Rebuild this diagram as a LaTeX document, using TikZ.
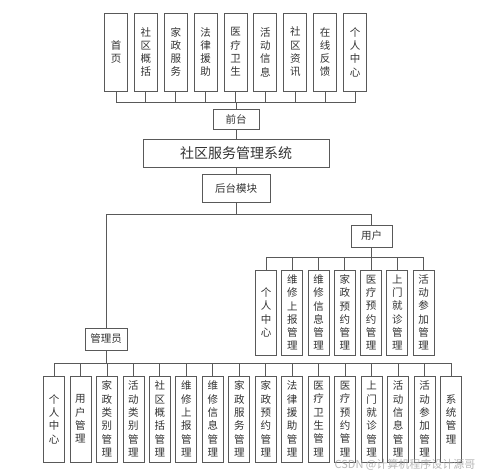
\documentclass[tikz,border=0pt]{standalone}
\usepackage{fontspec}
\setmainfont{Noto Sans CJK SC}
\begin{document}
\begin{tikzpicture}[x=1pt,y=-1pt,
  box/.style={draw=black!65, line width=0.8pt, fill=white, inner sep=0pt, align=center,
    font=\fontsize{10.5}{13.3}\selectfont, text=black!80},
  vbox/.style={box, minimum width=21pt},
  topbox/.style={box, minimum width=23pt, minimum height=78pt},
  ubox/.style={vbox, minimum height=85pt},
  abox/.style={vbox, minimum height=86pt},
  link/.style={draw=black!65, line width=0.8pt}]
\useasboundingbox (0,0) rectangle (499,472);
\fill[white] (0,0) rectangle (499,472);

% top row
\foreach \t [count=\i from 0] in {首\\页, 社\\区\\概\\括, 家\\政\\服\\务, 法\\律\\援\\助, 医\\疗\\卫\\生, 活\\动\\信\\息, 社\\区\\资\\讯, 在\\线\\反\\馈, 个\\人\\中\\心}
  \node[topbox] (t\i) at ({116+29.875*\i},52) {\t};

\node[box, minimum width=46pt, minimum height=20pt] (qt) at (236,119) {前台};
\node[box, minimum width=186pt, minimum height=28pt, font=\fontsize{14}{16}\selectfont] (sys) at (236,153) {社区服务管理系统};
\node[box, minimum width=68pt, minimum height=28pt] (ht) at (236,188) {后台模块};
\node[box, minimum width=41pt, minimum height=22pt] (yh) at (371.5,236) {用户};
\node[box, minimum width=42pt, minimum height=22pt] (gly) at (106,339) {管理员};

\coordinate (tb) at (236,102);
\foreach \i in {0,...,8} \draw[link] (t\i.south) |- (tb);
\draw[link] (tb) -- (qt.north);
\draw[link] (qt.south) -- (sys.north);
\draw[link] (sys.south) -- (ht.north);
\coordinate (hb) at (236,214);
\draw[link] (ht.south) -- (hb);
\draw[link] (hb) -| (yh.north);
\draw[link] (hb) -| (gly.north);

% user row
\foreach \t [count=\i from 0] in {个\\人\\中\\心, 维\\修\\上\\报\\管\\理, 维\\修\\信\\息\\管\\理, 家\\政\\预\\约\\管\\理, 医\\疗\\预\\约\\管\\理, 上\\门\\就\\诊\\管\\理, 活\\动\\参\\加\\管\\理}
  \node[ubox] (u\i) at ({266+26.25*\i},312.5) {\t};
\coordinate (ub) at (371.5,257);
\draw[link] (yh.south) -- (ub);
\foreach \i in {0,...,6} \draw[link] (u\i.north) |- (ub);

% admin row
\foreach \t [count=\i from 0] in {个\\人\\中\\心, 用\\户\\管\\理, 家\\政\\类\\别\\管\\理, 活\\动\\类\\别\\管\\理, 社\\区\\概\\括\\管\\理, 维\\修\\上\\报\\管\\理, 维\\修\\信\\息\\管\\理, 家\\政\\服\\务\\管\\理, 家\\政\\预\\约\\管\\理, 法\\律\\援\\助\\管\\理, 医\\疗\\卫\\生\\管\\理, 医\\疗\\预\\约\\管\\理, 上\\门\\就\\诊\\管\\理, 活\\动\\信\\息\\管\\理, 活\\动\\参\\加\\管\\理, 系\\统\\管\\理}
  \node[abox] (a\i) at ({54+26.47*\i},419) {\t};
\coordinate (ab) at (106,363);
\draw[link] (gly.south) -- (ab);
\foreach \i in {0,...,15} \draw[link] (a\i.north) |- (ab);

\node[text=black!35, opacity=0.8, font=\fontsize{11}{12}\selectfont, anchor=center] (wm) at (405,465) {CSDN @计算机程序设计源哥};
\end{tikzpicture}
\end{document}
